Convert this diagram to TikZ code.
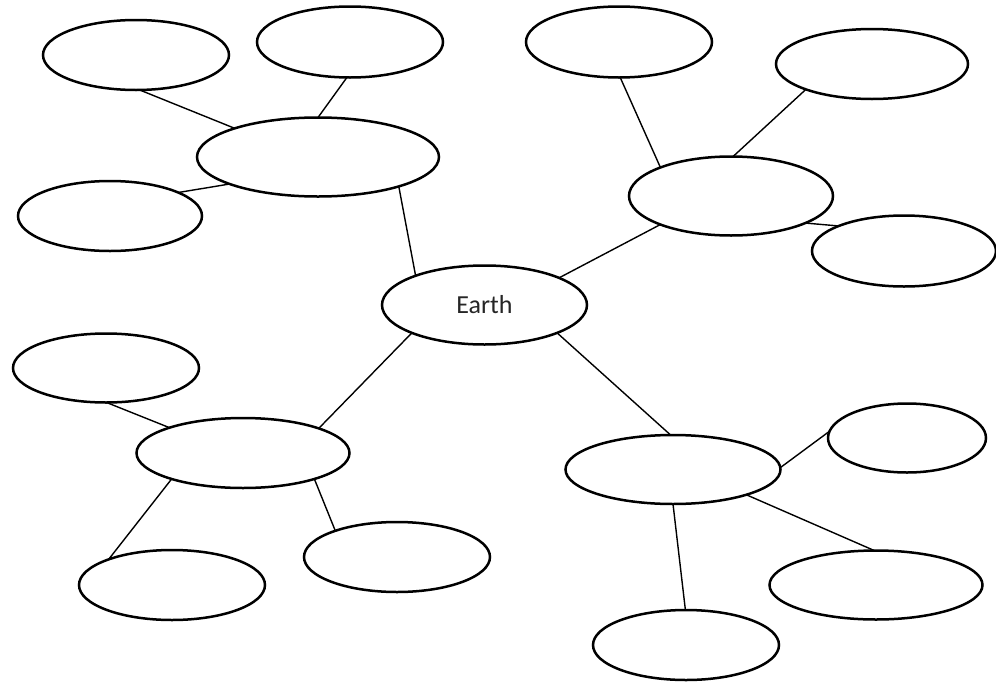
\documentclass[tikz,border=0pt]{standalone}
\usepackage{fontspec}
\setmainfont{Carlito}
\usetikzlibrary{shapes.geometric}
\tikzset{
  bubble/.style={ellipse, draw=black, line width=2.5pt, inner sep=0pt, outer sep=0pt, fill=white},
  link/.style={draw=black, line width=1.4pt},
}
\begin{document}
\begin{tikzpicture}[x=1pt, y=-1pt]
\useasboundingbox (0,0) rectangle (996,683);
\fill[white] (0,0) rectangle (996,683);
% nodes
\node[bubble, minimum width=186pt, minimum height=70pt] (n1) at (136,55) {};
\node[bubble, minimum width=186pt, minimum height=71pt] (n2) at (350,42) {};
\node[bubble, minimum width=242pt, minimum height=79pt] (n3) at (318,157) {};
\node[bubble, minimum width=184pt, minimum height=70pt] (n4) at (110,216) {};
\node[bubble, minimum width=186pt, minimum height=71pt] (n5) at (619,42) {};
\node[bubble, minimum width=192pt, minimum height=70pt] (n6) at (872,64) {};
\node[bubble, minimum width=204pt, minimum height=79pt] (n7) at (731,196) {};
\node[bubble, minimum width=184pt, minimum height=71pt] (n8) at (904,251) {};
\node[bubble, minimum width=205pt, minimum height=79pt, font=\fontsize{26}{30}\selectfont, text=black!85] (earth) at (484.5,305) {Earth};
\node[bubble, minimum width=186pt, minimum height=69pt] (n10) at (106,368) {};
\node[bubble, minimum width=213pt, minimum height=70pt] (n11) at (243,453) {};
\node[bubble, minimum width=186pt, minimum height=70pt] (n12) at (172,585) {};
\node[bubble, minimum width=186pt, minimum height=70pt] (n13) at (397,557) {};
\node[bubble, minimum width=215pt, minimum height=69pt] (n14) at (673,469.5) {};
\node[bubble, minimum width=158pt, minimum height=69pt] (n15) at (907,438) {};
\node[bubble, minimum width=213pt, minimum height=69pt] (n16) at (876,585) {};
\node[bubble, minimum width=186pt, minimum height=70pt] (n17) at (686,645) {};
% connectors
\draw[link] (n1.276.5) -- (n3.161.4);
\draw[link] (n2.265) -- (n3.90);
\draw[link] (n4.19.7) -- (n3.197);
\draw[link] (n3.340.8) -- (earth.157.9);
\draw[link] (n5.272) -- (n7.158.1);
\draw[link] (n6.201.8) -- (n7.87);
\draw[link] (n7.340.3) -- (n8.159.7);
\draw[link] (n7.202.5) -- (earth.20.9);
\draw[link] (n10.271.6) -- (n11.161.8);
\draw[link] (earth.201.9) -- (n11.18.9);
\draw[link] (n11.200) -- (n12.158.5);
\draw[link] (n11.340.4) -- (n13.157.4);
\draw[link] (earth.339.4) -- (n14.94.8);
\draw[link] (n14.1.3) -- (n15.175.6);
\draw[link] (n14.341.9) -- (n16.93.2);
\draw[link] (n14.270) -- (n17.91.6);
\end{tikzpicture}
\end{document}
